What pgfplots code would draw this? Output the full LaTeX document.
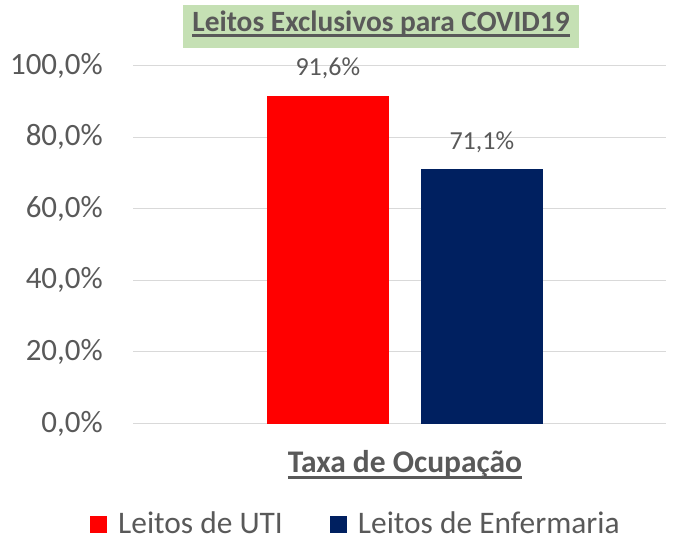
\documentclass[border=0pt]{standalone}
\usepackage{fontspec}
\setmainfont{Carlito}
\usepackage{pgfplots}
\pgfplotsset{compat=1.18}
\newsavebox{\ulbox}
\newcommand{\myul}[1]{\leavevmode\sbox{\ulbox}{#1}\rlap{\lower3.3bp\hbox{\vrule width \wd\ulbox height 0pt depth 2.6bp}}\usebox{\ulbox}}
\definecolor{txt}{HTML}{595959}
\definecolor{gridgray}{HTML}{D9D9D9}
\definecolor{uti}{HTML}{FF0000}
\definecolor{enf}{HTML}{002060}
\definecolor{titlegreen}{HTML}{C5E0B4}
\begin{document}
\begin{tikzpicture}[x=1bp,y=1bp]
\useasboundingbox (0,0) rectangle (676,-537);
\fill[titlegreen] (183,-5) rectangle (579,-48);
\begin{axis}[
  at={(133bp,-423.5bp)}, anchor=south west,
  scale only axis, width=533bp, height=357.8bp,
  xmin=-1.02, xmax=0.98, ymin=0, ymax=100,
  ytick={0,20,...,100},
  yticklabels={{0,0\%},{20,0\%},{40,0\%},{60,0\%},{80,0\%},{100,0\%}},
  xtick=\empty,
  ymajorgrids, grid style={draw=gridgray, line width=1bp},
  axis line style={draw=none},
  major tick length=0pt,
  tick label style={font=\fontsize{31bp}{37bp}\selectfont, text=txt},
  yticklabel style={inner sep=0pt, xshift=-30bp},
  ybar, bar width=122bp,
  clip=false,
  nodes near coords, point meta=explicit symbolic,
  every node near coord/.append style={font=\fontsize{26bp}{31bp}\selectfont, text=txt, anchor=base, yshift=20bp, inner sep=0pt},
  title={\myul{Leitos Exclusivos para COVID19}},
  title style={at={(0.4653,1.0802)}, anchor=base, inner sep=0pt, font=\bfseries\fontsize{29.4bp}{35bp}\selectfont, text=txt},
  xlabel={\myul{Taxa de Ocupação}},
  xlabel style={at={(0.5103,-0.1383)}, anchor=base, inner sep=0pt, font=\bfseries\fontsize{31.5bp}{37bp}\selectfont, text=txt},
  legend columns=2,
  legend style={at={(-0.0807,-0.2781)}, anchor=west, draw=none, fill=none, inner sep=0pt,
    font=\fontsize{31.4bp}{37bp}\selectfont, text=txt,
    cells={anchor=base west, inner sep=0pt, text depth=0pt},
    /tikz/every odd column/.append style={column sep=9bp},
    /tikz/every even column/.append style={column sep=45bp}},
  legend image code/.code={\fill[#1] (0bp,0bp) rectangle (17bp,17bp);},
]
\addplot[fill=uti, draw=none, bar shift=-77bp] coordinates {(0,91.6) [91,6\%]};
\addplot[fill=enf, draw=none, bar shift=77bp] coordinates {(0,71.1) [71,1\%]};
\legend{Leitos de UTI, Leitos de Enfermaria}
\end{axis}
\end{tikzpicture}
\end{document}
